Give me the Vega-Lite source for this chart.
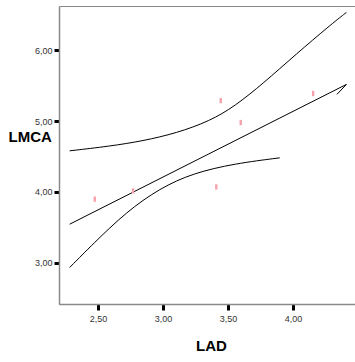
{
  "$schema": "https://vega.github.io/schema/vega-lite/v6.json",
  "autosize": "none",
  "width": 300,
  "height": 298,
  "padding": {"left": 59, "top": 6, "right": 0, "bottom": 58},
  "background": "white",
  "config": {
    "view": {"stroke": "#8a8a8a", "strokeWidth": 1},
    "font": "Liberation Sans"
  },
  "datasets": {
    "pts": [
      {"LAD": 2.475, "LMCA": 3.897},
      {"LAD": 2.77, "LMCA": 4.014},
      {"LAD": 3.41, "LMCA": 4.07},
      {"LAD": 3.444, "LMCA": 5.29},
      {"LAD": 3.598, "LMCA": 4.98},
      {"LAD": 4.155, "LMCA": 5.39}
    ],
    "lines": [
      {"s": "upper", "o": 1, "LAD": 2.282, "LMCA": 4.58},
      {"s": "upper", "o": 2, "LAD": 2.59, "LMCA": 4.645},
      {"s": "upper", "o": 3, "LAD": 2.846, "LMCA": 4.72},
      {"s": "upper", "o": 4, "LAD": 3.103, "LMCA": 4.83},
      {"s": "upper", "o": 5, "LAD": 3.359, "LMCA": 5.0},
      {"s": "upper", "o": 6, "LAD": 3.552, "LMCA": 5.21},
      {"s": "upper", "o": 7, "LAD": 3.769, "LMCA": 5.53},
      {"s": "upper", "o": 8, "LAD": 4.026, "LMCA": 5.95},
      {"s": "upper", "o": 9, "LAD": 4.282, "LMCA": 6.35},
      {"s": "upper", "o": 10, "LAD": 4.411, "LMCA": 6.537},
      {"s": "mid", "o": 1, "LAD": 2.282, "LMCA": 3.543},
      {"s": "mid", "o": 2, "LAD": 4.411, "LMCA": 5.519},
      {"s": "arrow", "o": 1, "LAD": 4.338, "LMCA": 5.378},
      {"s": "arrow", "o": 2, "LAD": 4.411, "LMCA": 5.519},
      {"s": "lower", "o": 1, "LAD": 2.282, "LMCA": 2.931},
      {"s": "lower", "o": 2, "LAD": 2.462, "LMCA": 3.265},
      {"s": "lower", "o": 3, "LAD": 2.718, "LMCA": 3.717},
      {"s": "lower", "o": 4, "LAD": 2.975, "LMCA": 4.05},
      {"s": "lower", "o": 5, "LAD": 3.231, "LMCA": 4.265},
      {"s": "lower", "o": 6, "LAD": 3.552, "LMCA": 4.4},
      {"s": "lower", "o": 7, "LAD": 3.898, "LMCA": 4.481}
    ]
  },
  "layer": [
    {
      "data": {"name": "lines"},
      "mark": {"type": "line", "color": "black", "strokeWidth": 1, "clip": true, "interpolate": "basis"},
      "encoding": {
        "x": {
          "field": "LAD", "type": "quantitative",
          "scale": {"domain": [2.2, 4.5077], "nice": false, "zero": false},
          "axis": {
            "values": [2.5, 3, 3.5, 4],
            "labelExpr": "replace(format(datum.value, '.2f'), '.', ',')",
            "grid": false,
            "domainColor": "#8a8a8a",
            "domainWidth": 1.5,
            "tickColor": "black",
            "tickWidth": 3,
            "tickSize": 6,
            "labelFontSize": 9,
            "labelColor": "#333",
            "labelPadding": 4,
            "title": "LAD",
            "titleFontSize": 15,
            "titleFontWeight": "bold",
            "titleColor": "black",
            "titleX": 152,
            "titleY": 41,
            "titleBaseline": "middle",
            "titleAnchor": null
          }
        },
        "y": {
          "field": "LMCA", "type": "quantitative",
          "scale": {"domain": [2.415, 6.627], "nice": false, "zero": false},
          "axis": {
            "values": [3, 4, 5, 6],
            "labelExpr": "replace(format(datum.value, '.2f'), '.', ',')",
            "grid": false,
            "domainColor": "#8a8a8a",
            "domainWidth": 1.5,
            "tickColor": "black",
            "tickWidth": 3,
            "tickSize": 5,
            "labelFontSize": 9,
            "labelColor": "#333",
            "labelPadding": 2,
            "title": "LMCA",
            "titleAngle": 0,
            "titleFontSize": 15,
            "titleFontWeight": "bold",
            "titleColor": "black",
            "titleAlign": "left",
            "titleBaseline": "middle",
            "titleX": -51,
            "titleY": 130
          }
        },
        "detail": {"field": "s"},
        "order": {"field": "o"}
      }
    },
    {
      "data": {"name": "pts"},
      "mark": {"type": "point", "shape": "M -0.45 -1 L 0.45 -1 L 0.45 1 L -0.45 1 Z", "size": 28, "filled": true, "color": "#f7a1aa", "opacity": 1},
      "encoding": {
        "x": {"field": "LAD", "type": "quantitative"},
        "y": {"field": "LMCA", "type": "quantitative"}
      }
    }
  ]
}
